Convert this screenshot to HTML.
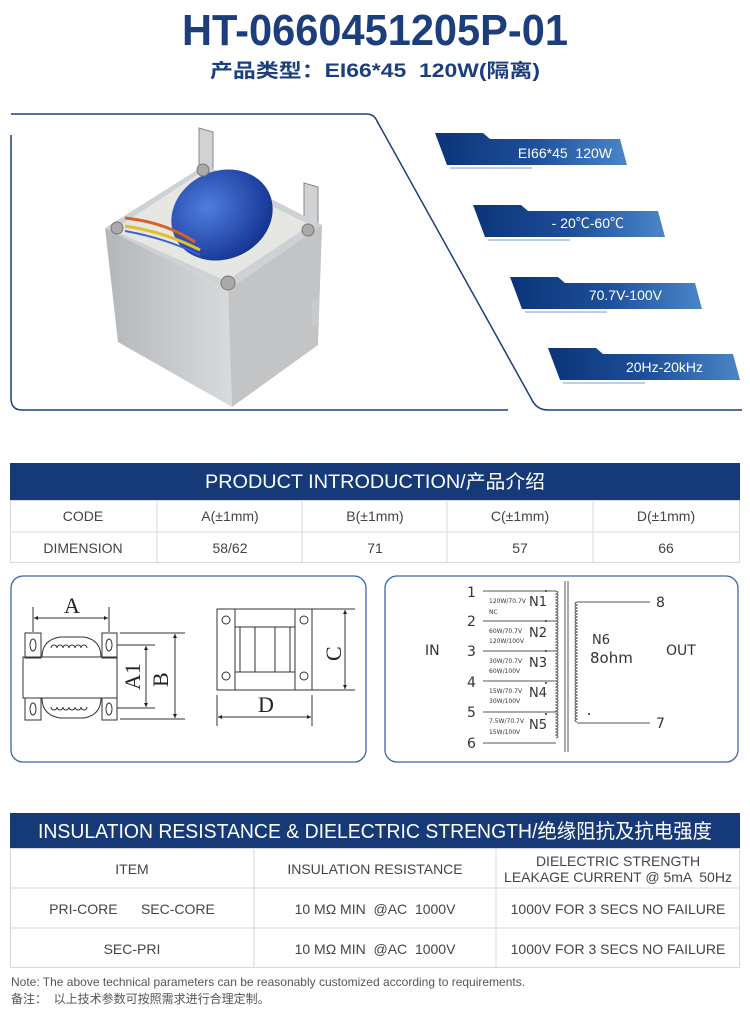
<!DOCTYPE html>
<html><head><meta charset="utf-8"><style>
html,body{margin:0;padding:0;background:#fff;}
svg{display:block;font-family:"Liberation Sans","Noto Sans CJK SC",sans-serif;}
text{white-space:pre;}
</style></head><body>
<svg width="750" height="1010" viewBox="0 0 750 1010" xmlns="http://www.w3.org/2000/svg">
<defs>
<linearGradient id="bg" x1="0" x2="1" y1="0" y2="0"><stop offset="0" stop-color="#0b3479"/><stop offset="0.5" stop-color="#1d4e98"/><stop offset="1" stop-color="#4a86c8"/></linearGradient>
<linearGradient id="core" x1="0" x2="1"><stop offset="0" stop-color="#b4b7ba"/><stop offset="1" stop-color="#d8dadc"/></linearGradient>
<radialGradient id="blue" cx="0.4" cy="0.35" r="0.7"><stop offset="0" stop-color="#4f7de0"/><stop offset="1" stop-color="#12318f"/></radialGradient>
<marker id="ar" viewBox="0 0 10 10" refX="10" refY="5" markerWidth="8" markerHeight="4" orient="auto-start-reverse" markerUnits="userSpaceOnUse"><path d="M0,0L10,5L0,10z" fill="#222"/></marker>
</defs>

<text x="375" y="45" text-anchor="middle" font-size="44" font-weight="bold" fill="#1c3e7c" textLength="386" lengthAdjust="spacingAndGlyphs">HT-0660451205P-01</text>
<text x="375" y="77" text-anchor="middle" font-size="19" font-weight="bold" fill="#1c3e7c" textLength="330" lengthAdjust="spacingAndGlyphs">产品类型：EI66*45  120W(隔离)</text>

<path d="M11,114 L366,114 Q374,114 377,121 L532,400 Q537,410 548,410 L742,410" fill="none" stroke="#1c3e7c" stroke-width="1.5"/>
<path d="M11,135 L11,398 Q11,410 22,410 L508,410" fill="none" stroke="#1c3e7c" stroke-width="1.5"/>

<!-- transformer photo -->
<g>
<polygon points="199,128 213,132 213,180 199,176" fill="#d0d2d4" stroke="#888"/>
<polygon points="304,183 318,187 318,235 304,231" fill="#d0d2d4" stroke="#888"/>
<polygon points="105,228 205,165 322,225 228,290" fill="#cfd2d5"/>
<polygon points="105,228 228,290 232,407 118,342" fill="url(#core)"/>
<polygon points="228,290 322,225 318,345 232,407" fill="#c2c4c6"/>
<polygon points="113,230 202,172 310,225 226,281" fill="#e6e6e2"/>
<ellipse cx="222" cy="215" rx="52" ry="44" fill="url(#blue)" transform="rotate(-25 222 215)"/>
<path d="M125,218 Q165,222 195,242" stroke="#d8602a" stroke-width="3" fill="none"/>
<path d="M125,226 Q165,232 200,250" stroke="#e2c02a" stroke-width="3" fill="none"/>
<path d="M125,231 Q165,238 200,255" stroke="#3d5fd8" stroke-width="2" fill="none"/>
<circle cx="117" cy="228" r="6" fill="#aaa" stroke="#777"/>
<circle cx="228" cy="283" r="7" fill="#aaa" stroke="#777"/>
<circle cx="308" cy="230" r="6" fill="#aaa" stroke="#777"/>
<circle cx="203" cy="170" r="6" fill="#aaa" stroke="#777"/>
<rect x="312" y="300" width="7" height="25" fill="#c8cacc"/>
</g>

<g font-size="14" fill="#fff">
<g>
<polygon points="435,133 483,133 490,139 620,139 627,165 447,165" fill="url(#bg)"/>
<line x1="450" y1="168" x2="532" y2="168" stroke="#7a9bd0"/>
<text x="612" y="158" text-anchor="end">EI66*45  120W</text>
</g>
<g transform="translate(38,72)">
<polygon points="435,133 483,133 490,139 620,139 627,165 447,165" fill="url(#bg)"/>
<line x1="450" y1="168" x2="532" y2="168" stroke="#7a9bd0"/>
<text x="586" y="156" text-anchor="end">- 20℃-60℃</text>
</g>
<g transform="translate(75,144)">
<polygon points="435,133 483,133 490,139 620,139 627,165 447,165" fill="url(#bg)"/>
<line x1="450" y1="168" x2="532" y2="168" stroke="#7a9bd0"/>
<text x="587" y="156" text-anchor="end">70.7V-100V</text>
</g>
<g transform="translate(113,215)">
<polygon points="435,133 483,133 490,139 620,139 627,165 447,165" fill="url(#bg)"/>
<line x1="450" y1="168" x2="532" y2="168" stroke="#7a9bd0"/>
<text x="590" y="157" text-anchor="end">20Hz-20kHz</text>
</g>
</g>

<rect x="10" y="463" width="730" height="37" fill="#163a78"/>
<text x="375" y="488" text-anchor="middle" font-size="19" fill="#fff" textLength="340" lengthAdjust="spacingAndGlyphs">PRODUCT INTRODUCTION/产品介绍</text>
<g stroke="#d8d8d8" fill="none">
<rect x="10.5" y="500.5" width="729" height="62"/>
<line x1="10" y1="532" x2="740" y2="532"/>
<line x1="157" y1="500" x2="157" y2="563"/><line x1="302" y1="500" x2="302" y2="563"/>
<line x1="447" y1="500" x2="447" y2="563"/><line x1="593" y1="500" x2="593" y2="563"/>
</g>
<g font-size="14" fill="#444" text-anchor="middle">
<text x="83" y="521">CODE</text><text x="230" y="521">A(±1mm)</text><text x="375" y="521">B(±1mm)</text><text x="520" y="521">C(±1mm)</text><text x="666" y="521">D(±1mm)</text>
<text x="83" y="553">DIMENSION</text><text x="230" y="553">58/62</text><text x="375" y="553">71</text><text x="520" y="553">57</text><text x="666" y="553">66</text>
</g>

<rect x="11" y="576" width="355" height="186" rx="12" fill="none" stroke="#3d63a8" stroke-width="1.3"/>
<rect x="385" y="576" width="353" height="186" rx="12" fill="none" stroke="#3d63a8" stroke-width="1.3"/>

<g stroke="#333" stroke-width="1" fill="none">
<rect x="25" y="633" width="16" height="25"/><rect x="102" y="633" width="15" height="25"/>
<rect x="25" y="698" width="16" height="22"/><rect x="102" y="698" width="15" height="22"/>
<ellipse cx="33" cy="645" rx="3" ry="6"/><ellipse cx="109" cy="645" rx="3" ry="6"/>
<ellipse cx="33" cy="709" rx="3" ry="6"/><ellipse cx="109" cy="709" rx="3" ry="6"/>
<rect x="23" y="657" width="94" height="41"/>
<path d="M42,657 Q42,640 60,637 L84,637 Q101,640 101,657"/>
<path d="M42,698 Q42,715 60,718 L84,718 Q101,715 101,698"/>
<path d="M51,648 a3,3 0 0 1 6,0 a3,3 0 0 1 6,0 a3,3 0 0 1 6,0 a3,3 0 0 1 6,0 a3,3 0 0 1 6,0 a3,3 0 0 1 6,0"/>
<path d="M51,707 a3,3 0 0 0 6,0 a3,3 0 0 0 6,0 a3,3 0 0 0 6,0 a3,3 0 0 0 6,0 a3,3 0 0 0 6,0 a3,3 0 0 0 6,0"/>
<line x1="33" y1="607" x2="33" y2="632"/><line x1="109" y1="607" x2="109" y2="632"/>
<line x1="34" y1="618" x2="108" y2="618" marker-start="url(#ar)" marker-end="url(#ar)"/>
<line x1="117" y1="645" x2="155" y2="645"/><line x1="117" y1="708" x2="155" y2="708"/>
<line x1="146" y1="646" x2="146" y2="707" marker-start="url(#ar)" marker-end="url(#ar)"/>
<line x1="120" y1="633" x2="185" y2="633"/><line x1="120" y1="719" x2="185" y2="719"/>
<line x1="175" y1="634" x2="175" y2="718" marker-start="url(#ar)" marker-end="url(#ar)"/>
<rect x="217" y="609" width="95" height="81"/>
<rect x="217" y="609" width="18" height="81"/><rect x="295" y="609" width="17" height="81"/>
<circle cx="226" cy="620" r="4"/><circle cx="304" cy="620" r="4"/><circle cx="226" cy="676" r="4"/><circle cx="304" cy="676" r="4"/>
<rect x="235" y="627" width="60" height="45"/>
<line x1="240" y1="627" x2="240" y2="672"/><line x1="290" y1="627" x2="290" y2="672"/>
<line x1="255" y1="627" x2="255" y2="672"/><line x1="275" y1="627" x2="275" y2="672"/>
<line x1="312" y1="609" x2="355" y2="609"/><line x1="312" y1="690" x2="355" y2="690"/>
<line x1="345" y1="610" x2="345" y2="689" marker-start="url(#ar)" marker-end="url(#ar)"/>
<line x1="217" y1="695" x2="217" y2="726"/><line x1="312" y1="695" x2="312" y2="726"/>
<line x1="218" y1="717" x2="311" y2="717" marker-start="url(#ar)" marker-end="url(#ar)"/>
</g>
<g font-family="Liberation Serif,serif" font-size="22" fill="#222">
<text x="64" y="613">A</text>
<text x="258" y="712">D</text>
<text transform="translate(140,690) rotate(-90)">A1</text>
<text transform="translate(168,687) rotate(-90)">B</text>
<text transform="translate(341,661) rotate(-90)">C</text>
</g>

<g stroke="#555" stroke-width="1" fill="none">
<line x1="483" y1="591" x2="556" y2="591"/><line x1="483" y1="621" x2="556" y2="621"/>
<line x1="483" y1="651" x2="556" y2="651"/><line x1="483" y1="681" x2="556" y2="681"/>
<line x1="483" y1="712" x2="556" y2="712"/><line x1="483" y1="743" x2="556" y2="743"/>
<path d="M556,591 q4,1.5 0,3 q4,1.5 0,3 q4,1.5 0,3 q4,1.5 0,3 q4,1.5 0,3 q4,1.5 0,3 q4,1.5 0,3 q4,1.5 0,3 q4,1.5 0,3 q4,1.5 0,3 q4,1.5 0,3 q4,1.5 0,3 q4,1.5 0,3 q4,1.5 0,3 q4,1.5 0,3 q4,1.5 0,3 q4,1.5 0,3 q4,1.5 0,3 q4,1.5 0,3 q4,1.5 0,3 q4,1.5 0,3 q4,1.5 0,3 q4,1.5 0,3 q4,1.5 0,3 q4,1.5 0,3 q4,1.5 0,3 q4,1.5 0,3 q4,1.5 0,3 q4,1.5 0,3 q4,1.5 0,3 q4,1.5 0,3 q4,1.5 0,3 q4,1.5 0,3 q4,1.5 0,3 q4,1.5 0,3 q4,1.5 0,3 q4,1.5 0,3 q4,1.5 0,3 q4,1.5 0,3 q4,1.5 0,3 q4,1.5 0,3 q4,1.5 0,3 q4,1.5 0,3 q4,1.5 0,3 q4,1.5 0,3 q4,1.5 0,3 q4,1.5 0,3 q4,1.5 0,3 q4,1.5 0,3"/>
<line x1="565" y1="581" x2="565" y2="752"/><line x1="568" y1="581" x2="568" y2="752"/>
<path d="M577,602 q-4,1.5 0,3 q-4,1.5 0,3 q-4,1.5 0,3 q-4,1.5 0,3 q-4,1.5 0,3 q-4,1.5 0,3 q-4,1.5 0,3 q-4,1.5 0,3 q-4,1.5 0,3 q-4,1.5 0,3 q-4,1.5 0,3 q-4,1.5 0,3 q-4,1.5 0,3 q-4,1.5 0,3 q-4,1.5 0,3 q-4,1.5 0,3 q-4,1.5 0,3 q-4,1.5 0,3 q-4,1.5 0,3 q-4,1.5 0,3 q-4,1.5 0,3 q-4,1.5 0,3 q-4,1.5 0,3 q-4,1.5 0,3 q-4,1.5 0,3 q-4,1.5 0,3 q-4,1.5 0,3 q-4,1.5 0,3 q-4,1.5 0,3 q-4,1.5 0,3 q-4,1.5 0,3 q-4,1.5 0,3 q-4,1.5 0,3 q-4,1.5 0,3 q-4,1.5 0,3 q-4,1.5 0,3 q-4,1.5 0,3 q-4,1.5 0,3 q-4,1.5 0,3 q-4,1.5 0,3"/>
<line x1="577" y1="602" x2="650" y2="602"/><line x1="577" y1="723" x2="650" y2="723"/>
</g>
<g fill="#333" font-family="DejaVu Sans,sans-serif">
<g font-size="14"><text x="467" y="597">1</text><text x="467" y="626">2</text><text x="467" y="656">3</text><text x="467" y="687">4</text><text x="467" y="717">5</text><text x="467" y="748">6</text>
<text x="656" y="607">8</text><text x="656" y="728">7</text>
<text x="425" y="655">IN</text><text x="666" y="655">OUT</text>
<text x="592" y="644" font-size="13">N6</text><text x="590" y="663" font-size="15">8ohm</text></g>
<g font-size="13"><text x="529" y="606">N1</text><text x="529" y="637">N2</text><text x="529" y="667">N3</text><text x="529" y="697">N4</text><text x="529" y="729">N5</text></g>
<g font-size="6"><text x="489" y="603">120W/70.7V</text><text x="489" y="614">NC</text>
<text x="489" y="633">60W/70.7V</text><text x="489" y="643">120W/100V</text>
<text x="489" y="663">30W/70.7V</text><text x="489" y="673">60W/100V</text>
<text x="489" y="693">15W/70.7V</text><text x="489" y="703">30W/100V</text>
<text x="489" y="723">7.5W/70.7V</text><text x="489" y="734">15W/100V</text></g>
<circle cx="546" cy="591" r="1"/><circle cx="546" cy="621" r="1"/><circle cx="546" cy="651" r="1"/><circle cx="546" cy="683" r="1"/><circle cx="546" cy="714" r="1"/><circle cx="589" cy="714" r="1"/>
</g>

<rect x="10" y="813" width="730" height="35" fill="#163a78"/>
<text x="375" y="838" text-anchor="middle" font-size="20" fill="#fff" textLength="674" lengthAdjust="spacingAndGlyphs">INSULATION RESISTANCE &amp; DIELECTRIC STRENGTH/绝缘阻抗及抗电强度</text>
<g stroke="#d8d8d8" fill="none">
<rect x="10.5" y="848.5" width="729" height="119"/>
<line x1="10" y1="888" x2="740" y2="888"/><line x1="10" y1="928" x2="740" y2="928"/>
<line x1="254" y1="848" x2="254" y2="968"/><line x1="496" y1="848" x2="496" y2="968"/>
</g>
<g font-size="14" fill="#444" text-anchor="middle">
<text x="132" y="874">ITEM</text><text x="375" y="874">INSULATION RESISTANCE</text>
<text x="618" y="866">DIELECTRIC STRENGTH</text><text x="618" y="882">LEAKAGE CURRENT @ 5mA  50Hz</text>
<text x="132" y="914">PRI-CORE      SEC-CORE</text><text x="375" y="914">10 MΩ MIN  @AC  1000V</text><text x="618" y="914">1000V FOR 3 SECS NO FAILURE</text>
<text x="132" y="954">SEC-PRI</text><text x="375" y="954">10 MΩ MIN  @AC  1000V</text><text x="618" y="954">1000V FOR 3 SECS NO FAILURE</text>
</g>
<text x="11" y="986" font-size="12" fill="#555">Note: The above technical parameters can be reasonably customized according to requirements.</text>
<text x="11" y="1003" font-size="12" fill="#555">备注：  以上技术参数可按照需求进行合理定制。</text>
</svg>
</body></html>
